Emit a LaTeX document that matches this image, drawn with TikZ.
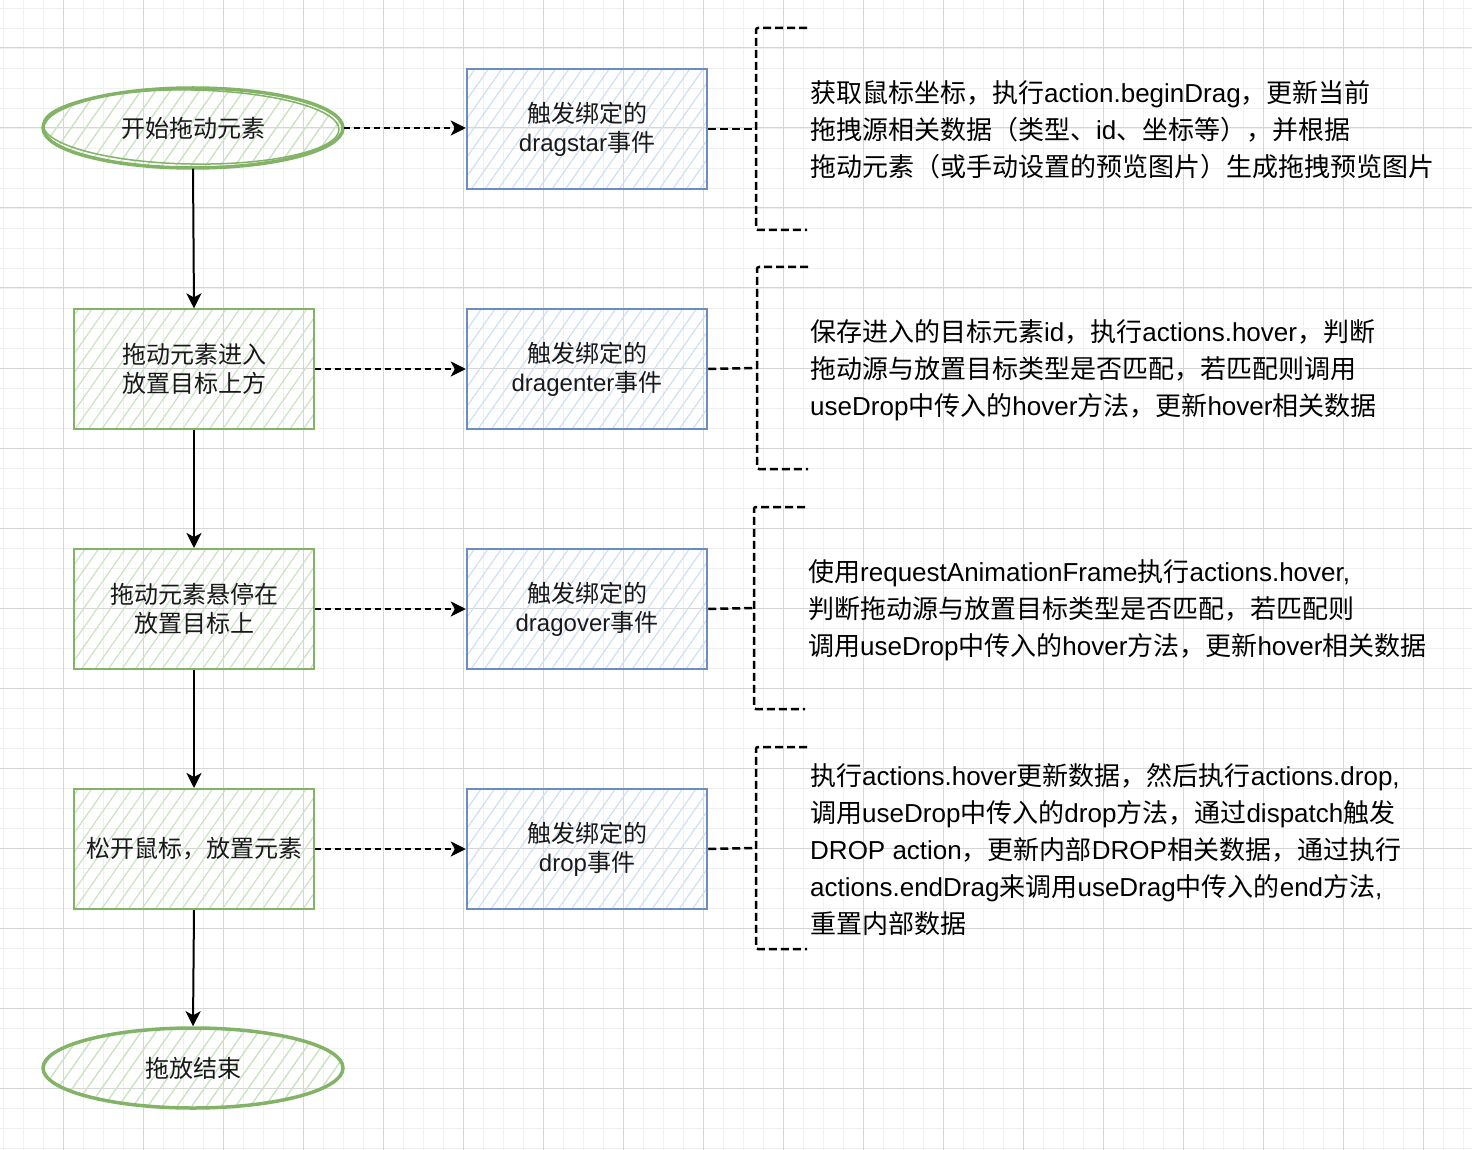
\documentclass[tikz,border=0pt]{standalone}
\usepackage{fontspec}
\setmainfont{Noto Sans CJK SC}
\newfontfamily\latfont{Liberation Sans}
\newcommand\latn[1]{{\latfont #1}}
\usetikzlibrary{shapes.geometric,arrows.meta,patterns.meta}
\definecolor{gstroke}{HTML}{82B366}
\definecolor{ghatch}{HTML}{CBE3C4}
\definecolor{bstroke}{HTML}{6C8EBF}
\definecolor{bhatch}{HTML}{CFE0F6}
\definecolor{gridmin}{HTML}{F0F0F0}
\definecolor{gridmaj}{HTML}{D6D6D6}
\tikzset{
  minorgrid/.style={gridmin,line width=0.8pt},
  majorgrid/.style={gridmaj,line width=1pt},
  startend/.style={ellipse,draw=gstroke,line width=3.5pt,minimum width=300pt,minimum height=80pt,inner sep=0pt,
    pattern={Lines[angle=55,distance=12pt,line width=1.4pt]},pattern color=ghatch,
    font=\fontsize{24}{29}\selectfont,text=black!90},
  greenbox/.style={rectangle,draw=gstroke,line width=2pt,minimum width=240pt,minimum height=120pt,inner sep=0pt,
    pattern={Lines[angle=55,distance=11pt,line width=1.2pt]},pattern color=ghatch,align=center,
    font=\fontsize{24}{29}\selectfont,text=black!90},
  bluebox/.style={rectangle,draw=bstroke,line width=2.5pt,minimum width=240pt,minimum height=120pt,inner sep=0pt,
    pattern={Lines[angle=55,distance=11pt,line width=1.2pt]},pattern color=bhatch,align=center,
    font=\fontsize{24}{29}\selectfont,text=black!90},
  outline/.style={ellipse,draw=gstroke,line width=1.5pt,minimum width=296pt,minimum height=74pt,inner sep=0pt},
  note/.style={anchor=west,align=left,inner sep=0pt,font=\fontsize{26}{37}\selectfont,text=black},
  flow/.style={draw=black,line width=2pt,-{Stealth[length=15pt,width=15pt,inset=4pt]}},
  dflow/.style={draw=black,line width=2pt,dash pattern=on 6pt off 4pt,-{Stealth[length=15pt,width=15pt,inset=4pt]}},
  dlink/.style={draw=black,line width=2.5pt,dash pattern=on 8pt off 4pt},
  brk/.style={draw=black,line width=2.5pt,dash pattern=on 8pt off 4pt,rounded corners=2pt},
}
\begin{document}
\begin{tikzpicture}[x=1pt,y=-1pt]
\useasboundingbox (0,0) rectangle (1472,1150);
\fill[white] (0,0) rectangle (1472,1150);
% grid
\foreach \x in {3,23,...,1471} \draw[minorgrid] (\x,0) -- (\x,1150);
\foreach \y in {8,28,...,1150} \draw[minorgrid] (0,\y) -- (1472,\y);
\foreach \x in {63,143,...,1471} \draw[majorgrid] (\x,0) -- (\x,1150);
\foreach \y in {48,128,...,1150} \draw[majorgrid] (0,\y) -- (1472,\y);

% left column
\node[startend] (s) at (193,128) {开始拖动元素};
\node[outline,rotate=-1] (s2) at (191,127) {};
\node[greenbox] (g1) at (194,369) {拖动元素进入\\放置目标上方};
\node[greenbox] (g2) at (194,609) {拖动元素悬停在\\放置目标上};
\node[greenbox] (g3) at (194,849) {松开鼠标，放置元素};
\node[startend] (e) at (193,1068) {拖放结束};

% middle column
\node[bluebox] (b1) at (587,129) {触发绑定的\\\latn{dragstar}事件};
\node[bluebox] (b2) at (587,369) {触发绑定的\\\latn{dragenter}事件};
\node[bluebox] (b3) at (587,609) {触发绑定的\\\latn{dragover}事件};
\node[bluebox] (b4) at (587,849) {触发绑定的\\\latn{drop}事件};

% vertical flow
\draw[flow] (s.south) -- (g1.north);
\draw[flow] (g1.south) -- (g2.north);
\draw[flow] (g2.south) -- (g3.north);
\draw[flow] (g3.south) -- (e.north);

% dashed horizontal arrows
\draw[dflow] (s.east) -- (b1.west |- s.east);
\draw[dflow] (g1.east) -- (b2.west);
\draw[dflow] (g2.east) -- (b3.west);
\draw[dflow] (g3.east) -- (b4.west);

% brackets
\coordinate (k1) at (756,129);
\coordinate (k2) at (757,368);
\coordinate (k3) at (754,608);
\coordinate (k4) at (756,848);
\foreach \k in {k1,k2,k3,k4}
  \draw[brk] (\k) ++(51,-101) -- ++(-51,0) -- ++(0,202) -- ++(51,0);
\draw[dlink] (b1.east) -- (k1);
\draw[dlink] (b2.east) -- (k2);
\draw[dlink] (b3.east) -- (k3);
\draw[dlink] (b4.east) -- (k4);

% notes
\node[note] (n1) at (810,130) {获取鼠标坐标，执行\latn{action.beginDrag}，更新当前\\拖拽源相关数据（类型、\latn{id}、坐标等），并根据\\拖动元素（或手动设置的预览图片）生成拖拽预览图片};
\node[note] (n2) at (810,370) {保存进入的目标元素\latn{id}，执行\latn{actions.hover}，判断\\拖动源与放置目标类型是否匹配，若匹配则调用\\\latn{useDrop}中传入的\latn{hover}方法，更新\latn{hover}相关数据};
\node[note] (n3) at (808,610) {使用\latn{requestAnimationFrame}执行\latn{actions.hover,}\\判断拖动源与放置目标类型是否匹配，若匹配则\\调用\latn{useDrop}中传入的\latn{hover}方法，更新\latn{hover}相关数据};
\node[note] (n4) at (810,850) {执行\latn{actions.hover}更新数据，然后执行\latn{actions.drop,}\\调用\latn{useDrop}中传入的\latn{drop}方法，通过\latn{dispatch}触发\\\latn{DROP action}，更新内部\latn{DROP}相关数据，通过执行\\\latn{actions.endDrag}来调用\latn{useDrag}中传入的\latn{end}方法\latn{,}\\重置内部数据};
\end{tikzpicture}
\end{document}
